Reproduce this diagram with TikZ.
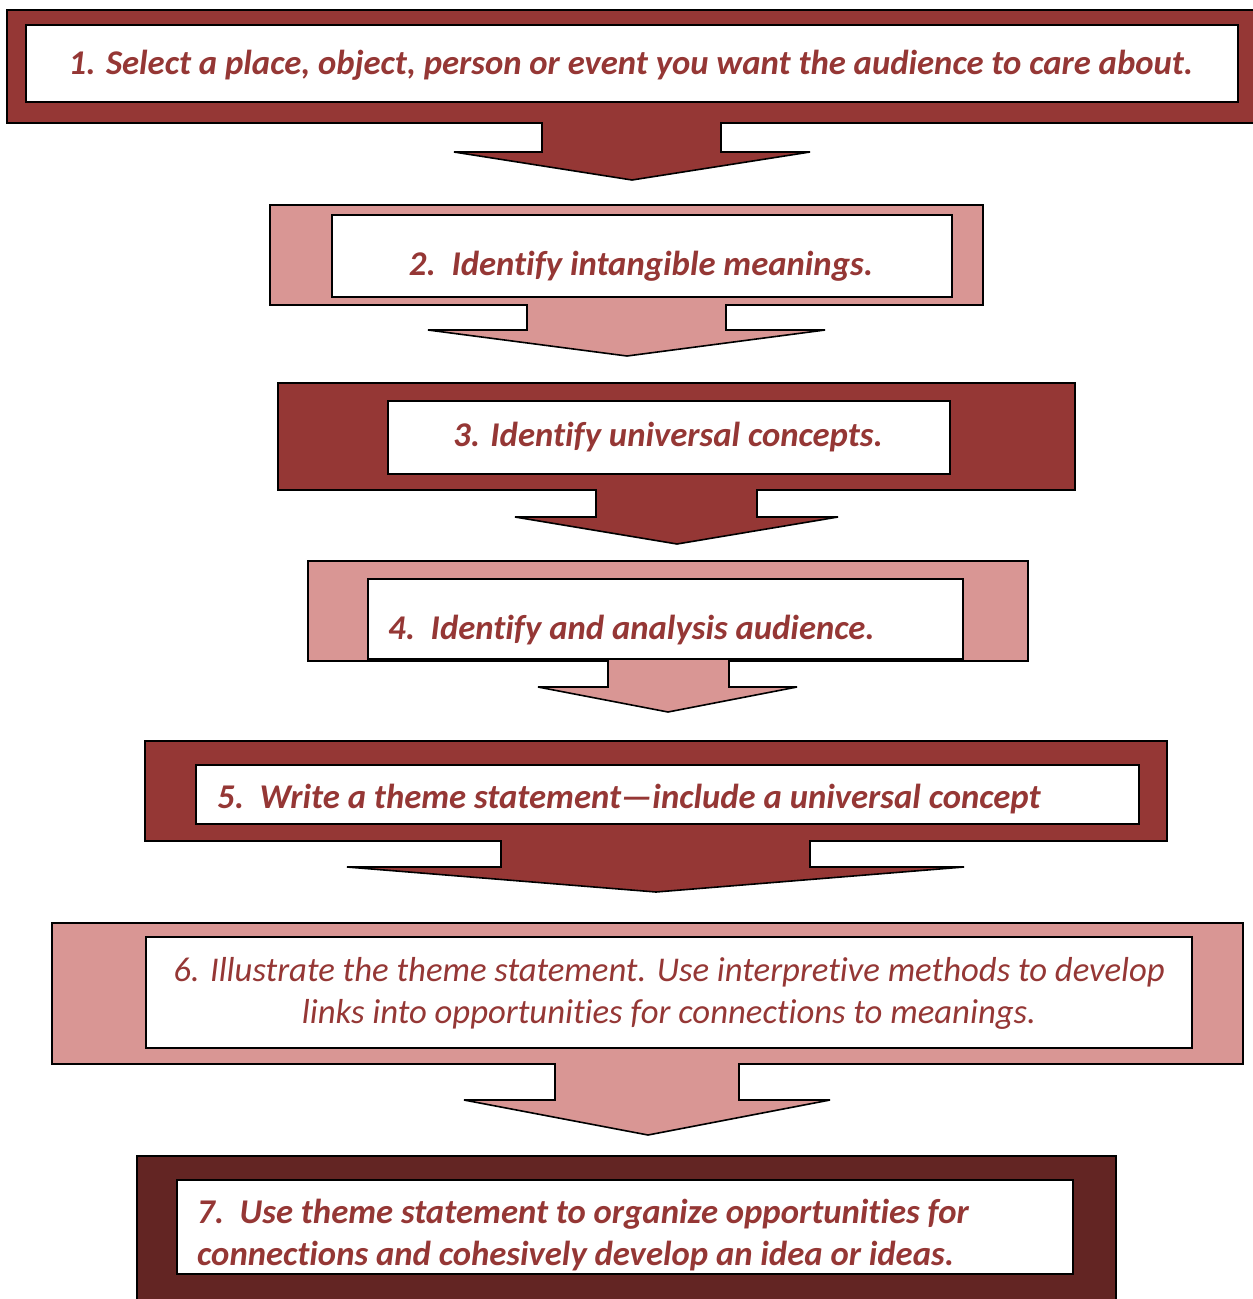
\documentclass[tikz,border=0pt]{standalone}
\usepackage{fontspec}
\setmainfont[Ligatures=NoCommon]{Carlito}
\definecolor{dred}{HTML}{953735}
\definecolor{pinkred}{HTML}{D99694}
\definecolor{ddred}{HTML}{632523}
\tikzset{
  outershape/.style={draw=black, line width=1.6pt, line join=miter},
  innerbox/.style={draw=black, line width=1.6pt, fill=white},
  steptext/.style={text=dred, font=\fontsize{34.7}{42}\selectfont\bfseries\itshape, inner sep=0pt},
  steptextlight/.style={text=dred, font=\fontsize{34.7}{42}\selectfont\itshape, inner sep=0pt, align=center}
}
\begin{document}
\begin{tikzpicture}[x=1pt,y=-1pt]
\useasboundingbox (0,0) rectangle (1253,1299);
\clip (0,0) rectangle (1253,1299);
% Block 1
\path[outershape, fill=dred] (7,10) -- (1262,10) -- (1262,123) -- (721,123) -- (721,152) -- (810,152) -- (632,180) -- (454,152) -- (542,152) -- (542,123) -- (7,123) -- cycle;
\draw[innerbox] (26,25) rectangle (1238,102);
\node[steptext, anchor=base] (t1) at (631,74) {1. Select a place, object, person or event you want the audience to care about.};
% Block 2
\path[outershape, fill=pinkred] (270,205) -- (983,205) -- (983,305) -- (726,305) -- (726,330) -- (825,330) -- (627,356) -- (428,330) -- (527,330) -- (527,305) -- (270,305) -- cycle;
\draw[innerbox] (332,215) rectangle (952,297);
\node[steptext, anchor=base] (t2) at (641,275) {2.\ \ Identify intangible meanings.};
% Block 3
\path[outershape, fill=dred] (278,383) -- (1075,383) -- (1075,490) -- (757,490) -- (757,517) -- (838,517) -- (677,544) -- (515,517) -- (596,517) -- (596,490) -- (278,490) -- cycle;
\draw[innerbox] (388,401) rectangle (950,474);
\node[steptext, anchor=base] (t3) at (668,446) {3. Identify universal concepts.};
% Block 4
\path[outershape, fill=pinkred] (308,561) -- (1028,561) -- (1028,661) -- (729,661) -- (729,687) -- (797,687) -- (668,712) -- (538,687) -- (608,687) -- (608,661) -- (308,661) -- cycle;
\draw[innerbox] (368,579) rectangle (963,659);
\node[steptext, anchor=base west] (t4) at (388,639) {4.\ \ Identify and analysis audience.};
% Block 5
\path[outershape, fill=dred] (145,741) -- (1167,741) -- (1167,841) -- (810,841) -- (810,867) -- (964,867) -- (656,892) -- (347,867) -- (501,867) -- (501,841) -- (145,841) -- cycle;
\draw[innerbox] (196,765) rectangle (1139,824);
\node[steptext, anchor=base west] (t5) at (217,808) {5.\ \ Write a theme statement---include a universal concept};
% Block 6
\path[outershape, fill=pinkred] (52,923) -- (1243,923) -- (1243,1064) -- (739,1064) -- (739,1100) -- (830,1100) -- (648,1135) -- (464,1100) -- (555,1100) -- (555,1064) -- (52,1064) -- cycle;
\draw[innerbox] (146,937) rectangle (1192,1048);
\node[steptextlight, anchor=base] (t6a) at (669,981) {6. Illustrate the theme statement. Use interpretive methods to develop};
\node[steptextlight, anchor=base] (t6b) at (669,1023) {links into opportunities for connections to meanings.};
% Block 7
\path[outershape, fill=ddred] (137,1156) -- (1116,1156) -- (1116,1320) -- (137,1320) -- cycle;
\draw[innerbox] (177,1180) rectangle (1073,1274);
\begin{scope}
\clip (177,1180) rectangle (1073,1273);
\node[steptext, anchor=base west] (t7a) at (197,1223) {7.\ \ Use theme statement to organize opportunities for};
\node[steptext, anchor=base west] (t7b) at (197,1265) {connections and cohesively develop an idea or ideas.};
\end{scope}
\draw[line width=1.6pt] (177,1274) -- (1073,1274);
\end{tikzpicture}
\end{document}
